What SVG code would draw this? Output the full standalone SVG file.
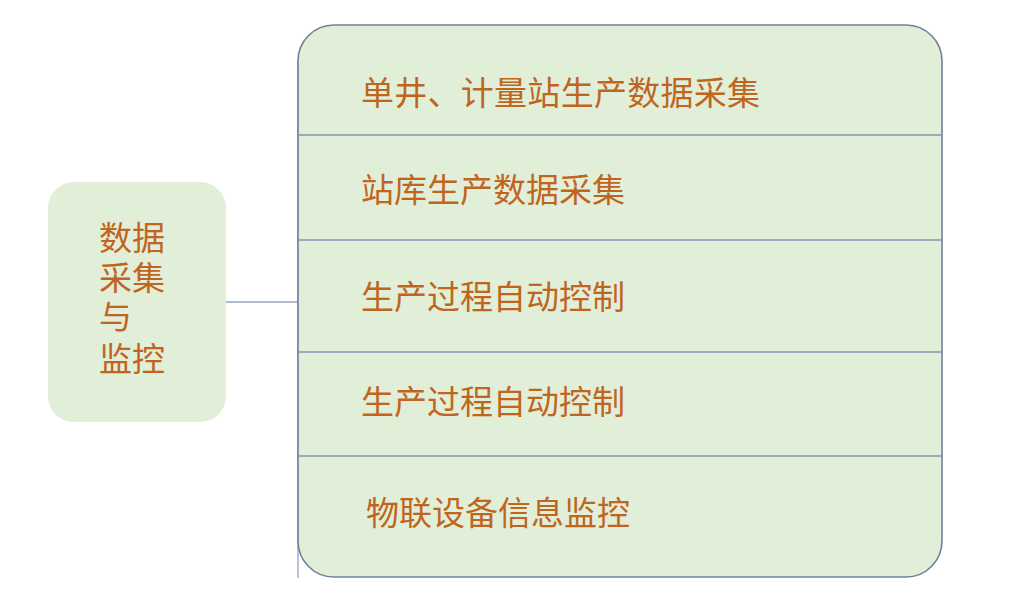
<svg xmlns="http://www.w3.org/2000/svg" width="1024" height="607" viewBox="0 0 1024 607">
<style>
.t{font-family:"Noto Sans CJK SC","Noto Sans CJK JP",sans-serif;font-size:33px;fill:#c0651e}
.div{stroke:#8196b0;stroke-width:1.3}
.conn{stroke:#93a5bd;stroke-width:1.3;fill:none}
</style>
<rect width="1024" height="607" fill="#ffffff"/>
<g id="connectors">
<line class="conn" x1="226" y1="302" x2="298" y2="302"/>
<line class="conn" x1="298" y1="60" x2="298" y2="578"/>
</g>
<g id="root">
<rect x="48" y="182" width="178" height="240" rx="26" fill="#e1eed8"/>
<text class="t" x="99" y="250"><tspan x="99" y="250">数据</tspan><tspan x="99" y="290">采集</tspan><tspan x="99" y="329">与</tspan><tspan x="99" y="371">监控</tspan></text>
</g>
<g id="list">
<rect x="298" y="25" width="644" height="552" rx="36" fill="#e1efd9" stroke="#6f819b" stroke-width="1.6"/>
<line class="div" x1="299" y1="135" x2="941" y2="135"/>
<line class="div" x1="299" y1="240" x2="941" y2="240"/>
<line class="div" x1="299" y1="352" x2="941" y2="352"/>
<line class="div" x1="299" y1="456" x2="941" y2="456"/>
</g>
<g id="item1"><text class="t" x="361" y="105" textLength="399">单井、计量站生产数据采集</text></g>
<g id="item2"><text class="t" x="361" y="202">站库生产数据采集</text></g>
<g id="item3"><text class="t" x="361" y="309">生产过程自动控制</text></g>
<g id="item4"><text class="t" x="361" y="414">生产过程自动控制</text></g>
<g id="item5"><text class="t" x="366" y="525">物联设备信息监控</text></g>
</svg>
